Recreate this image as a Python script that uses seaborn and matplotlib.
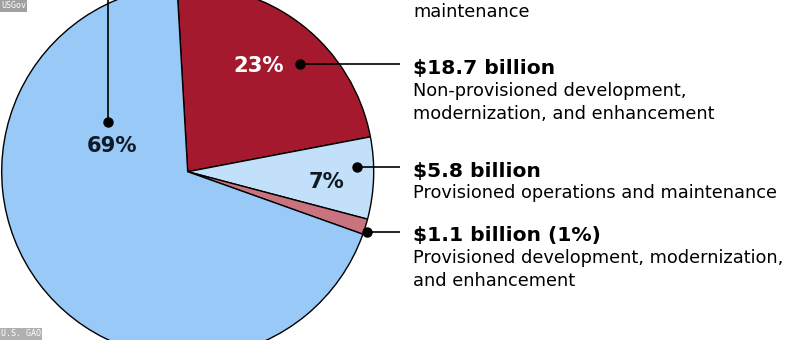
import matplotlib
matplotlib.use("Agg")
import matplotlib.pyplot as plt
import seaborn as sns

sns.set_theme(style="white")
plt.rcParams['font.family'] = ['DejaVu Sans']

# Data (billions of dollars), wedge order clockwise from top
categories = [
    "Non-provisioned development, modernization, and enhancement",
    "Provisioned operations and maintenance",
    "Provisioned development, modernization, and enhancement",
    "Non-provisioned operations and maintenance",
]
values = [18.7, 5.8, 1.1, 56.0]
pct_labels = ["23%", "7%", "", "69%"]
amount_labels = ["$18.7 billion", "$5.8 billion", "$1.1 billion (1%)"]
desc_lines = [
    ["Non-provisioned development,", "modernization, and enhancement"],
    ["Provisioned operations and maintenance"],
    ["Provisioned development, modernization,", "and enhancement"],
]
colors = ["#a5192e", "#c3e0fa", "#c9737f", "#99c9f6"]

W, H = 800, 340
fig = plt.figure(figsize=(8, 3.4), dpi=100)
ax = fig.add_axes([0, 0, 1, 1])

cx, cy, R = 187.7, H - 171.7, 186

def py(y):  # pixel y from top -> data y
    return H - y

wedges, _ = ax.pie(values, colors=colors, startangle=93.3, counterclock=False,
                   center=(cx, cy), radius=R, frame=True,
                   wedgeprops=dict(edgecolor="black", linewidth=1.0))
ax.set_xlim(0, W)
ax.set_ylim(0, H)
ax.set_aspect("equal")
ax.axis("off")

# percentage labels inside wedges
pct_fs = 15.2
ax.text(259, py(66), pct_labels[0], color="white", fontsize=pct_fs, fontweight="bold",
        ha="center", va="center")
ax.text(326.5, py(181.5), pct_labels[1], color="#111a22", fontsize=pct_fs, fontweight="bold",
        ha="center", va="center")
ax.text(112, py(146), pct_labels[3], color="#0e1a28", fontsize=pct_fs, fontweight="bold",
        ha="center", va="center")

# leader lines and dots
dots = [(300, 64), (357, 167), (366.5, 232)]
for (x, y) in dots:
    ax.plot([x, 400], [py(y), py(y)], color="black", lw=1.2, solid_capstyle="butt")
    ax.plot(x, py(y), "o", color="black", ms=6.5)
ax.plot([108.3, 108.3], [py(122), py(-5)], color="black", lw=1.2)
ax.plot(108.3, py(122), "o", color="black", ms=6.5)

# right-hand annotations
tx = 413
head_base = [74, 176.5, 241]
for lab, yb, lines in zip(amount_labels, head_base, desc_lines):
    ax.text(tx, py(yb), lab, fontsize=14.6, fontweight="bold", color="black",
            ha="left", va="baseline")
    for i, ln in enumerate(lines):
        ax.text(tx, py(yb + 22 + 23 * i), ln, fontsize=12.8, color="black",
                ha="left", va="baseline")
ax.text(tx, py(17), "maintenance", fontsize=12.8, color="black", ha="left", va="baseline")

# watermarks
ax.text(1, py(6), "USGov", fontsize=6, color="white", ha="left", va="center",
        family="DejaVu Sans Mono",
        bbox=dict(boxstyle="square,pad=0.15", fc="#a0a0a0", ec="none"))
ax.text(1, py(334), "U.S. GAO", fontsize=6, color="white", ha="left", va="center",
        family="DejaVu Sans Mono",
        bbox=dict(boxstyle="square,pad=0.15", fc="#b0b0b0", ec="none"))

fig.savefig("out.png", dpi=100)
